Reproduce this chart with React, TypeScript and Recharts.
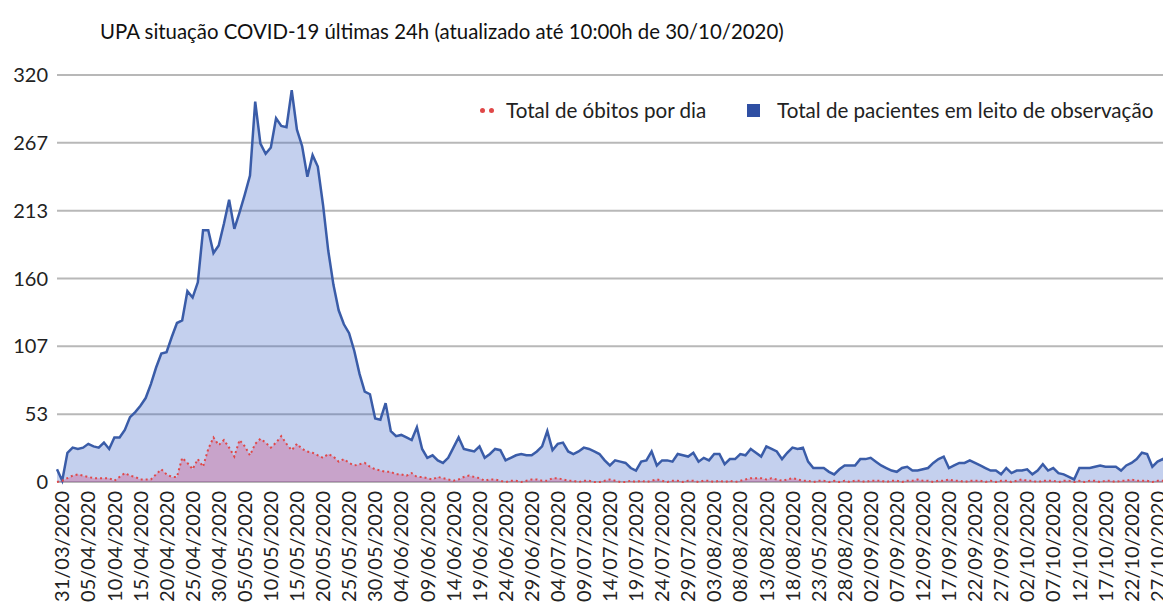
import { AreaChart, Area, XAxis, YAxis, CartesianGrid } from 'recharts';

// daily values from 30/03/2020 to 29/10/2020
const patients = [
  10, 1, 23, 27, 26, 27, 30, 28, 27, 31,
  26, 35, 35, 41, 51, 55, 60, 66, 77, 90,
  101, 102, 114, 125, 127, 150, 145, 157, 198, 198,
  180, 186, 203, 222, 199, 212, 226, 241, 299, 266,
  258, 263, 286, 280, 279, 308, 277, 264, 240, 257,
  248, 218, 182, 155, 135, 124, 117, 103, 85, 71,
  69, 50, 49, 62, 40, 36, 37, 35, 33, 43,
  26, 19, 21, 17, 15, 19, 27, 35, 26, 25,
  24, 28, 19, 22, 26, 25, 17, 19, 21, 22,
  21, 21, 24, 28, 40, 25, 30, 31, 24, 22,
  24, 27, 26, 24, 22, 17, 13, 17, 16, 15,
  11, 9, 16, 17, 24, 13, 17, 17, 16, 22,
  21, 20, 23, 16, 19, 17, 22, 22, 14, 18,
  18, 22, 21, 26, 23, 20, 28, 26, 24, 18,
  23, 27, 26, 27, 16, 11, 11, 11, 8, 6,
  10, 13, 13, 13, 18, 18, 19, 16, 13, 11,
  9, 8, 11, 12, 9, 9, 10, 11, 15, 18,
  20, 11, 13, 15, 15, 17, 15, 13, 11, 9,
  9, 6, 11, 7, 9, 9, 10, 6, 9, 14,
  9, 11, 7, 6, 4, 2, 11, 11, 11, 12,
  13, 12, 12, 12, 9, 13, 15, 18, 23, 22,
  12, 16, 18, 14,
];

const deaths = [
  0, 1, 3, 5, 6, 5, 4, 3, 3, 3,
  3, 1, 4, 7, 5, 4, 2, 2, 2, 6,
  10, 6, 4, 4, 19, 15, 10, 18, 12, 26,
  35, 29, 33, 27, 20, 33, 28, 21, 30, 34,
  31, 27, 31, 36, 30, 25, 30, 26, 24, 23,
  21, 19, 22, 20, 16, 18, 15, 13, 14, 15,
  12, 10, 9, 8, 8, 6, 6, 5, 7, 4,
  4, 3, 2, 4, 3, 2, 1, 2, 4, 5,
  4, 3, 1, 2, 2, 1, 0, 1, 1, 0,
  1, 2, 2, 1, 1, 3, 3, 2, 1, 1,
  0, 1, 1, 0, 0, 1, 2, 1, 0, 0,
  1, 0, 1, 0, 1, 2, 1, 0, 1, 1,
  0, 1, 1, 0, 1, 1, 0, 1, 0, 1,
  0, 1, 2, 3, 3, 3, 2, 3, 2, 1,
  2, 3, 2, 1, 1, 0, 1, 1, 0, 1,
  0, 1, 0, 1, 1, 0, 1, 1, 1, 0,
  1, 1, 0, 1, 1, 2, 1, 1, 0, 1,
  1, 2, 1, 1, 0, 1, 1, 1, 0, 1,
  0, 1, 1, 0, 1, 2, 1, 1, 0, 1,
  1, 1, 0, 1, 1, 0, 1, 0, 1, 1,
  0, 1, 1, 0, 1, 1, 2, 1, 1, 1,
  0, 1, 1, 0,
];

// shown every 5 days starting at 31/03 (label "23/05" is as printed in the original)
const xTickLabels = [
  '31/03/2020', '05/04/2020', '10/04/2020', '15/04/2020', '20/04/2020', '25/04/2020',
  '30/04/2020', '05/05/2020', '10/05/2020', '15/05/2020', '20/05/2020', '25/05/2020',
  '30/05/2020', '04/06/2020', '09/06/2020', '14/06/2020', '19/06/2020', '24/06/2020',
  '29/06/2020', '04/07/2020', '09/07/2020', '14/07/2020', '19/07/2020', '24/07/2020',
  '29/07/2020', '03/08/2020', '08/08/2020', '13/08/2020', '18/08/2020', '23/05/2020',
  '28/08/2020', '02/09/2020', '07/09/2020', '12/09/2020', '17/09/2020', '22/09/2020',
  '27/09/2020', '02/10/2020', '07/10/2020', '12/10/2020', '17/10/2020', '22/10/2020',
  '27/10/2020',
];

const yTicks = [0, 320 / 6, 640 / 6, 160, 1280 / 6, 1600 / 6, 320];

const pad = (n: number) => n.toString().padStart(2, '0');
const dates = patients.map((_, i) => {
  const d = new Date(Date.UTC(2020, 2, 30 + i));
  return `${pad(d.getUTCDate())}/${pad(d.getUTCMonth() + 1)}/${d.getUTCFullYear()}`;
});

const data = dates.map((date, i) => ({ date, pacientes: patients[i], obitos: deaths[i] }));

const FONT = 'Lato, "Open Sans", sans-serif';

const DateTick = (props: any) => {
  const { x, y, index } = props;
  if (index % 5 !== 1) return <g />;
  const label = xTickLabels[(index - 1) / 5];
  return (
    <text
      x={x}
      y={y}
      transform={`rotate(-90, ${x}, ${y})`}
      textAnchor="end"
      dy="0.36em"
      fontSize={20}
      fill="#222"
      fontFamily={FONT}
    >
      {label}
    </text>
  );
};

export default function App() {
  return (
    <div style={{ position: 'relative', width: 1171, height: 611, margin: -8, fontFamily: FONT, background: '#fff', overflow: 'hidden' }}>
      <div style={{ position: 'absolute', left: 100, top: 19, fontSize: 20.4, color: '#111', whiteSpace: 'nowrap' }}>
        UPA situação COVID-19 últimas 24h (atualizado até 10:00h de 30/10/2020)
      </div>
      <AreaChart width={1171} height={611} data={data} margin={{ top: 75, right: 3, bottom: 0, left: 0 }}>
        <CartesianGrid vertical={false} stroke="#b8b8b8" strokeWidth={2} />
        <XAxis
          dataKey="date"
          interval={0}
          axisLine={false}
          tickLine={false}
          tickSize={6}
          tickMargin={3}
          height={129}
          tick={<DateTick />}
        />
        <YAxis
          domain={[0, 320]}
          ticks={yTicks}
          tickFormatter={(v: number) => String(Math.round(v))}
          axisLine={false}
          tickLine={false}
          tickSize={6}
          tickMargin={3}
          width={57}
          tick={{ fontSize: 20, fill: '#222', fontFamily: FONT }}
        />
        <Area
          type="linear"
          dataKey="pacientes"
          stroke="#3a5ca8"
          strokeWidth={2.5}
          fill="#3c64c8"
          fillOpacity={0.3}
          isAnimationActive={false}
          dot={false}
        />
        <Area
          type="linear"
          dataKey="obitos"
          stroke="#e04848"
          strokeWidth={2}
          strokeDasharray="2 3"
          fill="#d23c78"
          fillOpacity={0.3}
          isAnimationActive={false}
          dot={false}
        />
      </AreaChart>
      <div style={{ position: 'absolute', left: 480, top: 97, height: 26, display: 'flex', alignItems: 'center', fontSize: 20.6, color: '#222', whiteSpace: 'nowrap' }}>
        <span style={{ display: 'inline-block', width: 5, height: 5, borderRadius: 3, background: '#e04848', marginRight: 4 }} />
        <span style={{ display: 'inline-block', width: 5, height: 5, borderRadius: 3, background: '#e04848', marginRight: 12 }} />
        <span>Total de óbitos por dia</span>
      </div>
      <div style={{ position: 'absolute', left: 747, top: 97, height: 26, display: 'flex', alignItems: 'center', fontSize: 20.6, color: '#222', whiteSpace: 'nowrap' }}>
        <span style={{ display: 'inline-block', width: 13, height: 13, background: '#2f4fa3', marginRight: 17 }} />
        <span>Total de pacientes em leito de observação</span>
      </div>
    </div>
  );
}
